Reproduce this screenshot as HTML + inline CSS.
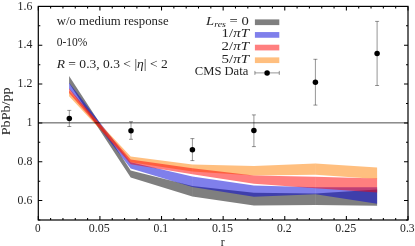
<!DOCTYPE html>
<html><head><meta charset="utf-8"><title>chart</title>
<style>html,body{margin:0;padding:0;background:#fff;}svg{display:block;}</style></head>
<body>
<svg width="415" height="246" viewBox="0 0 415 246" style="will-change:transform">
<rect width="415" height="246" fill="#fff"/>
<polygon points="69.10,75.9 130.70,170.4 192.34,185.9 192.34,196.5 130.70,177.5 69.10,83.2" fill="#000000" fill-opacity="0.5"/>
<polygon points="192.26,185.9 253.90,192.8 315.54,193.4 315.54,204.9 253.90,205.4 192.26,196.5" fill="#000000" fill-opacity="0.5"/>
<polygon points="315.46,193.4 377.10,189.5 377.10,205.7 315.46,204.9" fill="#000000" fill-opacity="0.5"/>
<polygon points="69.10,82.8 130.70,162.2 192.34,176.6 192.34,186.9 130.70,168.6 69.10,89.0" fill="#0000d8" fill-opacity="0.5"/>
<polygon points="192.26,176.6 253.90,185.5 315.54,187.2 315.54,194.3 253.90,196.8 192.26,186.9" fill="#0000d8" fill-opacity="0.5"/>
<polygon points="315.46,187.2 377.10,187.3 377.10,203.7 315.46,194.3" fill="#0000d8" fill-opacity="0.5"/>
<polygon points="69.10,90.8 130.70,156.6 192.34,164.5 192.34,171.5 130.70,162.2 69.10,96.2" fill="#ff8000" fill-opacity="0.5"/>
<polygon points="192.26,164.5 253.90,165.9 315.54,163.6 315.54,174.7 253.90,175.6 192.26,171.5" fill="#ff8000" fill-opacity="0.5"/>
<polygon points="315.46,163.6 377.10,167.4 377.10,178.9 315.46,174.7" fill="#ff8000" fill-opacity="0.5"/>
<polygon points="69.10,88.4 130.70,159.5 192.34,168.3 192.34,174.3 130.70,164.2 69.10,93.1" fill="#ff0000" fill-opacity="0.5"/>
<polygon points="192.26,168.3 253.90,175.4 315.54,176.8 315.54,188.2 253.90,183.8 192.26,174.3" fill="#ff0000" fill-opacity="0.5"/>
<polygon points="315.46,176.8 377.10,178.6 377.10,192.6 315.46,188.2" fill="#ff0000" fill-opacity="0.5"/>
<line x1="38.3" x2="408.0" y1="122.86" y2="122.86" stroke="#000" stroke-width="0.7"/>
<path d="M38.30,220.0v-4M38.30,6.4v4M50.62,220.0v-2M50.62,6.4v2M62.95,220.0v-2M62.95,6.4v2M75.27,220.0v-2M75.27,6.4v2M87.59,220.0v-2M87.59,6.4v2M99.92,220.0v-4M99.92,6.4v4M112.24,220.0v-2M112.24,6.4v2M124.56,220.0v-2M124.56,6.4v2M136.89,220.0v-2M136.89,6.4v2M149.21,220.0v-2M149.21,6.4v2M161.53,220.0v-4M161.53,6.4v4M173.86,220.0v-2M173.86,6.4v2M186.18,220.0v-2M186.18,6.4v2M198.50,220.0v-2M198.50,6.4v2M210.83,220.0v-2M210.83,6.4v2M223.15,220.0v-4M223.15,6.4v4M235.47,220.0v-2M235.47,6.4v2M247.80,220.0v-2M247.80,6.4v2M260.12,220.0v-2M260.12,6.4v2M272.44,220.0v-2M272.44,6.4v2M284.77,220.0v-4M284.77,6.4v4M297.09,220.0v-2M297.09,6.4v2M309.41,220.0v-2M309.41,6.4v2M321.74,220.0v-2M321.74,6.4v2M334.06,220.0v-2M334.06,6.4v2M346.38,220.0v-4M346.38,6.4v4M358.71,220.0v-2M358.71,6.4v2M371.03,220.0v-2M371.03,6.4v2M383.35,220.0v-2M383.35,6.4v2M395.68,220.0v-2M395.68,6.4v2M408.00,220.0v-4M408.00,6.4v4M38.3,220.00h2M408.0,220.00h-2M38.3,200.58h4M408.0,200.58h-4M38.3,181.16h2M408.0,181.16h-2M38.3,161.75h4M408.0,161.75h-4M38.3,142.33h2M408.0,142.33h-2M38.3,122.91h4M408.0,122.91h-4M38.3,103.49h2M408.0,103.49h-2M38.3,84.07h4M408.0,84.07h-4M38.3,64.65h2M408.0,64.65h-2M38.3,45.24h4M408.0,45.24h-4M38.3,25.82h2M408.0,25.82h-2M38.3,6.40h4M408.0,6.40h-4" stroke="#000" stroke-width="1.05" fill="none"/>
<rect x="38.3" y="6.4" width="369.70" height="213.60" fill="none" stroke="#000" stroke-width="1.2"/>
<path d="M69.3,110.4V126.5M67.3,110.4h4.0M67.3,126.5h4.0" stroke="#000" stroke-width="0.42" fill="none"/>
<circle cx="69.3" cy="118.6" r="2.75" fill="#000"/>
<path d="M131.0,121.7V139.3M129.0,121.7h4.0M129.0,139.3h4.0" stroke="#000" stroke-width="0.42" fill="none"/>
<circle cx="131.0" cy="130.8" r="2.75" fill="#000"/>
<path d="M192.4,138.6V160.6M190.4,138.6h4.0M190.4,160.6h4.0" stroke="#000" stroke-width="0.42" fill="none"/>
<circle cx="192.4" cy="149.7" r="2.75" fill="#000"/>
<path d="M253.9,114.9V146.6M251.9,114.9h4.0M251.9,146.6h4.0" stroke="#000" stroke-width="0.42" fill="none"/>
<circle cx="253.9" cy="130.5" r="2.75" fill="#000"/>
<path d="M315.4,59.3V105.1M313.4,59.3h4.0M313.4,105.1h4.0" stroke="#000" stroke-width="0.42" fill="none"/>
<circle cx="315.4" cy="82.2" r="2.75" fill="#000"/>
<path d="M377.1,21.4V85.5M375.1,21.4h4.0M375.1,85.5h4.0" stroke="#000" stroke-width="0.42" fill="none"/>
<circle cx="377.1" cy="53.4" r="2.75" fill="#000"/>
<rect x="254.9" y="19.40" width="24.40" height="5.7" fill="#000000" fill-opacity="0.5"/>
<rect x="254.9" y="32.06" width="24.40" height="5.7" fill="#0000d8" fill-opacity="0.5"/>
<rect x="254.9" y="44.72" width="24.40" height="5.7" fill="#ff0000" fill-opacity="0.5"/>
<rect x="254.9" y="57.38" width="24.40" height="5.7" fill="#ff8000" fill-opacity="0.5"/>
<path d="M254.9,72.9H279.3M254.9,70.9v4.0M279.3,70.9v4.0" stroke="#000" stroke-width="0.42" fill="none"/>
<circle cx="267.1" cy="72.9" r="2.75" fill="#000"/>
<g style="filter:grayscale(1)" fill="#242424">
<text x="56.7" y="24.7" font-family="Liberation Serif" font-size="12" text-anchor="start" textLength="111.9" lengthAdjust="spacingAndGlyphs" >w/o medium response</text>
<text x="56.7" y="45.6" font-family="Liberation Serif" font-size="13" text-anchor="start" textLength="30.7" lengthAdjust="spacingAndGlyphs" >0-10%</text>
<text x="56.7" y="67.6" font-family="Liberation Serif" font-size="13" text-anchor="start" textLength="111.0" lengthAdjust="spacingAndGlyphs" ><tspan font-style="italic">R</tspan> = 0.3, 0.3 &lt; |<tspan font-style="italic">η</tspan>| &lt; 2</text>
<text x="206.1" y="24.8" font-family="Liberation Serif" font-size="12.5" text-anchor="start" textLength="42.7" lengthAdjust="spacingAndGlyphs" ><tspan font-style="italic">L</tspan><tspan font-style="italic" font-size="8.5" dy="1.8">res</tspan><tspan dy="-1.8"> = 0</tspan></text>
<text x="221.6" y="37.4" font-family="Liberation Serif" font-size="13" text-anchor="start" textLength="27.4" lengthAdjust="spacingAndGlyphs" >1/<tspan font-style="italic">πT</tspan></text>
<text x="221.6" y="50.0" font-family="Liberation Serif" font-size="13" text-anchor="start" textLength="27.4" lengthAdjust="spacingAndGlyphs" >2/<tspan font-style="italic">πT</tspan></text>
<text x="221.6" y="62.6" font-family="Liberation Serif" font-size="13" text-anchor="start" textLength="27.4" lengthAdjust="spacingAndGlyphs" >5/<tspan font-style="italic">πT</tspan></text>
<text x="194.8" y="74.7" font-family="Liberation Serif" font-size="12.5" text-anchor="start" textLength="53.5" lengthAdjust="spacingAndGlyphs" >CMS Data</text>
<text x="17.599999999999998" y="9.5" font-family="Liberation Serif" font-size="13.2" text-anchor="start" textLength="14.8" lengthAdjust="spacingAndGlyphs" >1.6</text>
<text x="17.599999999999998" y="48.3" font-family="Liberation Serif" font-size="13.2" text-anchor="start" textLength="14.8" lengthAdjust="spacingAndGlyphs" >1.4</text>
<text x="17.599999999999998" y="87.2" font-family="Liberation Serif" font-size="13.2" text-anchor="start" textLength="14.8" lengthAdjust="spacingAndGlyphs" >1.2</text>
<text x="26.799999999999997" y="126.0" font-family="Liberation Serif" font-size="13.2" text-anchor="start" textLength="5.6" lengthAdjust="spacingAndGlyphs" >1</text>
<text x="17.599999999999998" y="164.8" font-family="Liberation Serif" font-size="13.2" text-anchor="start" textLength="14.8" lengthAdjust="spacingAndGlyphs" >0.8</text>
<text x="17.599999999999998" y="203.7" font-family="Liberation Serif" font-size="13.2" text-anchor="start" textLength="14.8" lengthAdjust="spacingAndGlyphs" >0.6</text>
<text x="34.9" y="232.0" font-family="Liberation Serif" font-size="13.2" text-anchor="start" textLength="5.6" lengthAdjust="spacingAndGlyphs" >0</text>
<text x="88.8" y="232.0" font-family="Liberation Serif" font-size="13.2" text-anchor="start" textLength="21.0" lengthAdjust="spacingAndGlyphs" >0.05</text>
<text x="153.6" y="232.0" font-family="Liberation Serif" font-size="13.2" text-anchor="start" textLength="14.6" lengthAdjust="spacingAndGlyphs" >0.1</text>
<text x="212.0" y="232.0" font-family="Liberation Serif" font-size="13.2" text-anchor="start" textLength="21.0" lengthAdjust="spacingAndGlyphs" >0.15</text>
<text x="276.9" y="232.0" font-family="Liberation Serif" font-size="13.2" text-anchor="start" textLength="14.6" lengthAdjust="spacingAndGlyphs" >0.2</text>
<text x="335.3" y="232.0" font-family="Liberation Serif" font-size="13.2" text-anchor="start" textLength="21.0" lengthAdjust="spacingAndGlyphs" >0.25</text>
<text x="400.1" y="232.0" font-family="Liberation Serif" font-size="13.2" text-anchor="start" textLength="14.6" lengthAdjust="spacingAndGlyphs" >0.3</text>
<text x="220.7" y="245.6" font-family="Liberation Serif" font-size="12" text-anchor="start" textLength="3.9" lengthAdjust="spacingAndGlyphs" >r</text>
<text transform="translate(9.8,135.3) rotate(-90)" font-family="Liberation Serif" font-size="12.5" textLength="48" lengthAdjust="spacingAndGlyphs">PbPb/pp</text>
</g>
</svg>
</body></html>
